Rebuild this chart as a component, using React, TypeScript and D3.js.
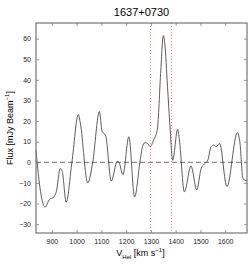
import React, { useEffect, useRef } from "react";
import * as d3 from "d3";

// spectrum (heliocentric velocity, flux)
const velocity = [
  836, 848, 873, 889, 909, 918, 934, 942, 958, 981, 1007, 1015, 1045, 1065,
  1092, 1103, 1117, 1140, 1164, 1171, 1187, 1211, 1234, 1256, 1266, 1276,
  1286, 1297, 1311, 1326, 1340, 1350, 1356, 1367, 1377, 1388, 1408, 1415,
  1435, 1462, 1485, 1503, 1516, 1530, 1543, 1554, 1564, 1577, 1607, 1649,
  1659, 1672, 1688,
];
const flux = [
  6, -8.6, -21.8, -18.3, -16.7, -14.3, -3, -4.5, -19.3, 0, 23.2, 19, -10, 0,
  24.6, 15, 13, -9.1, 0.5, 0, -6, 12.4, -16.8, 0.3, 7.6, 9.5,
  9.2, 7.6, 10.8, 16, 44.8, 61.5, 57.8, 36.7, 17.3, 1, 16, 10.8,
  -14.3, -1.8, -13.4, -2.9, -0.8, 1.1, 7.6, 8.4, 7.6, 9.2, -11.8, 14.4,
  10, -8, -9,
];
const xTicks = [900, 1000, 1100, 1200, 1300, 1400, 1500, 1600];
const yTicks = [-30, -20, -10, 0, 10, 20, 30, 40, 50, 60];
const markers = [1298, 1383];
const title = "1637+0730";

const W = 249, H = 265;
const margin = { top: 23, right: 2, bottom: 32, left: 36 };

export default function App() {
  const ref = useRef<SVGSVGElement>(null);

  useEffect(() => {
    const svg = d3.select(ref.current);
    svg.selectAll("*").remove();

    const iw = W - margin.left - margin.right;
    const ih = H - margin.top - margin.bottom;
    const x = d3.scaleLinear().domain([836, 1688]).range([0, iw]);
    const y = d3.scaleLinear().domain([-34.3, 67.6]).range([ih, 0]);

    const g = svg.append("g").attr("transform", `translate(${margin.left},${margin.top})`);
    const font = "'Liberation Sans', Arial, sans-serif";

    // zero line
    g.append("line")
      .attr("x1", 0).attr("x2", iw)
      .attr("y1", y(0)).attr("y2", y(0))
      .attr("stroke", "#333").attr("stroke-width", 0.7)
      .attr("stroke-dasharray", "5,3");

    // velocity range markers (snapped to pixel centres)
    g.selectAll(".mk").data(markers).enter().append("line")
      .attr("x1", d => Math.round(x(d)) + 0.5).attr("x2", d => Math.round(x(d)) + 0.5)
      .attr("y1", 0).attr("y2", ih)
      .attr("stroke", "#ff8a8a").attr("stroke-width", 1)
      .attr("stroke-dasharray", "1,2");

    const pts = velocity.map((v, i) => [v, flux[i]] as [number, number]);
    const line = d3.line<[number, number]>()
      .x(d => x(d[0])).y(d => y(d[1]))
      .curve(d3.curveMonotoneX);
    g.append("path").datum(pts)
      .attr("d", line)
      .attr("fill", "none").attr("stroke", "#333").attr("stroke-width", 0.8);

    // axes, ticks inward on all sides
    const tickLen = 3;
    const axisColor = "#808080";
    g.append("g").attr("transform", `translate(0,${ih})`)
      .call(d3.axisBottom(x).tickValues(xTicks).tickSizeInner(-tickLen).tickSizeOuter(0).tickPadding(6)
        .tickFormat(d3.format("d")))
      .call(a => a.select(".domain").remove());
    g.append("g")
      .call(d3.axisTop(x).tickValues(xTicks).tickSizeInner(-tickLen).tickSizeOuter(0).tickFormat(() => ""))
      .call(a => a.select(".domain").remove());
    g.append("g")
      .call(d3.axisLeft(y).tickValues(yTicks).tickSizeInner(-tickLen).tickSizeOuter(0).tickPadding(5)
        .tickFormat(d3.format("d")))
      .call(a => a.select(".domain").remove());
    g.append("g").attr("transform", `translate(${iw},0)`)
      .call(d3.axisRight(y).tickValues(yTicks).tickSizeInner(-tickLen).tickSizeOuter(0).tickFormat(() => ""))
      .call(a => a.select(".domain").remove());
    g.selectAll(".tick line").attr("stroke", axisColor).attr("stroke-width", 0.8);
    g.selectAll(".tick text").attr("font-family", font).attr("font-size", 7).attr("fill", "#222");

    g.append("rect")
      .attr("x", 0).attr("y", 0).attr("width", iw).attr("height", ih)
      .attr("fill", "none").attr("stroke", axisColor).attr("stroke-width", 1.3);

    svg.append("text")
      .attr("x", margin.left + iw / 2).attr("y", 16)
      .attr("text-anchor", "middle").attr("font-family", font).attr("font-size", 11)
      .text(title);

    const xl = svg.append("text")
      .attr("x", margin.left + iw / 2 - 1).attr("y", 256)
      .attr("text-anchor", "middle").attr("font-family", font).attr("font-size", 9);
    xl.append("tspan").text("V");
    xl.append("tspan").attr("font-size", 6).attr("dy", 3).text("Hel");
    xl.append("tspan").attr("dy", -3).text(" [km s");
    xl.append("tspan").attr("font-size", 6).attr("dy", -4).text("\u22121");
    xl.append("tspan").attr("dy", 4).text("]");

    const yl = svg.append("text")
      .attr("transform", `translate(13,${margin.top + ih / 2}) rotate(-90)`)
      .attr("text-anchor", "middle").attr("font-family", font).attr("font-size", 9);
    yl.append("tspan").text("Flux [mJy Beam");
    yl.append("tspan").attr("font-size", 6).attr("dy", -4).text("\u22121");
    yl.append("tspan").attr("dy", 4).text("]");
  }, []);

  return (
    <svg ref={ref} width={W} height={H}
      style={{ position: "absolute", left: 0, top: 0, background: "#fff" }} />
  );
}
